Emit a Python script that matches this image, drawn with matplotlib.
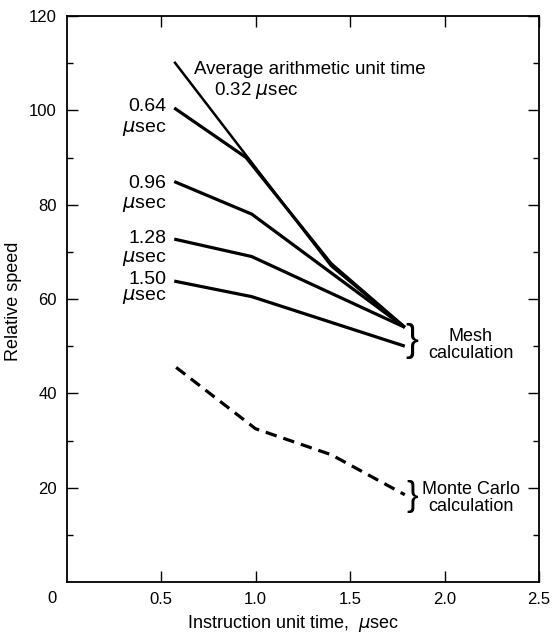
import matplotlib
matplotlib.use("Agg")
import matplotlib.pyplot as plt

plt.rcParams['font.family'] = ['Liberation Sans', 'DejaVu Sans']
plt.rcParams['mathtext.fontset'] = 'dejavusans'

# Data
x_032 = [0.57, 1.40, 1.79]
y_032 = [110.3, 67.0, 54.0]
x_064 = [0.57, 0.95, 1.40, 1.79]
y_064 = [100.5, 90.0, 67.5, 54.0]
x_096 = [0.57, 0.98, 1.79]
y_096 = [84.9, 78.0, 54.0]
x_128 = [0.57, 0.98, 1.79]
y_128 = [72.7, 69.0, 54.0]
x_150 = [0.57, 0.98, 1.79]
y_150 = [63.8, 60.5, 50.0]
x_mc = [0.58, 1.00, 1.40, 1.79]
y_mc = [45.5, 32.5, 27.0, 18.5]

xticks = [0.5, 1.0, 1.5, 2.0, 2.5]
xticklabels = ["0.5", "1.0", "1.5", "2.0", "2.5"]
yticks = [20, 40, 60, 80, 100, 120]
yticklabels = ["20", "40", "60", "80", "100", "120"]
yminor = [10, 30, 50, 70, 90, 110]

W, H = 554, 641
fig = plt.figure(figsize=(W / 100, H / 100), dpi=100)
ax = fig.add_axes([66.5 / W, 1 - 582 / H, (539 - 66.5) / W, (582 - 16) / H])

ax.plot(x_032, y_032, color='black', lw=1.8, solid_capstyle='butt')
for xs, ys in [(x_064, y_064), (x_096, y_096), (x_128, y_128), (x_150, y_150)]:
    ax.plot(xs, ys, color='black', lw=2.3, solid_capstyle='butt')
ax.plot(x_mc, y_mc, color='black', lw=2.3, dashes=(3.6, 2.2))

ax.set_xlim(0, 2.5)
ax.set_ylim(0, 120)
ax.set_xticks(xticks)
ax.set_xticklabels(xticklabels)
ax.set_yticks(yticks)
ax.set_yticklabels(yticklabels)
ax.set_yticks(yminor, minor=True)
ax.tick_params(axis='both', which='major', direction='in', length=8, width=1,
               labelsize=12, pad=7, top=True, right=True)
ax.tick_params(axis='y', which='minor', direction='in', length=4, width=1, right=True)
for s in ax.spines.values():
    s.set_linewidth(1.3)

ax.text(-0.075, -3.6, "0", fontsize=12, ha='center', va='center', transform=ax.transData,
        clip_on=False)

ax.set_xlabel(r"Instruction unit time,  $\mu$sec", fontsize=13)
ax.xaxis.set_label_coords((293 - 66.5) / (539 - 66.5), -(613 - 582) / (582 - 16))
ax.set_ylabel("Relative speed", fontsize=13)
ax.yaxis.set_label_coords(-(66.5 - 22) / (539 - 66.5), 0.496)

lab = dict(fontsize=14, color='black')
ax.text(0.675, 108.6, "Average arithmetic unit time", ha='left', va='center',
        fontsize=13.5)
ax.text(0.78, 104.3, r"0.32 $\mu$sec", ha='left', va='center', fontsize=13.5)
ax.text(0.527, 100.9, "0.64", ha='right', va='center', **lab)
ax.text(0.527, 96.2, r"$\mu$sec", ha='right', va='center', **lab)
ax.text(0.527, 84.4, "0.96", ha='right', va='center', **lab)
ax.text(0.527, 80.0, r"$\mu$sec", ha='right', va='center', **lab)
ax.text(0.527, 72.8, "1.28", ha='right', va='center', **lab)
ax.text(0.527, 68.6, r"$\mu$sec", ha='right', va='center', **lab)
ax.text(0.527, 64.1, "1.50", ha='right', va='center', **lab)
ax.text(0.527, 60.6, r"$\mu$sec", ha='right', va='center', **lab)

ax.text(1.83, 51.2, "}", fontsize=28, ha='center', va='center', fontweight='light')
ax.text(2.14, 50.3, "Mesh\ncalculation", fontsize=13, ha='center', va='center',
        linespacing=1.0)
ax.text(1.83, 18.2, "}", fontsize=25, ha='center', va='center', fontweight='light')
ax.text(2.14, 17.9, "Monte Carlo\ncalculation", fontsize=13, ha='center', va='center',
        linespacing=1.0)

fig.savefig("out.png", dpi=100)
